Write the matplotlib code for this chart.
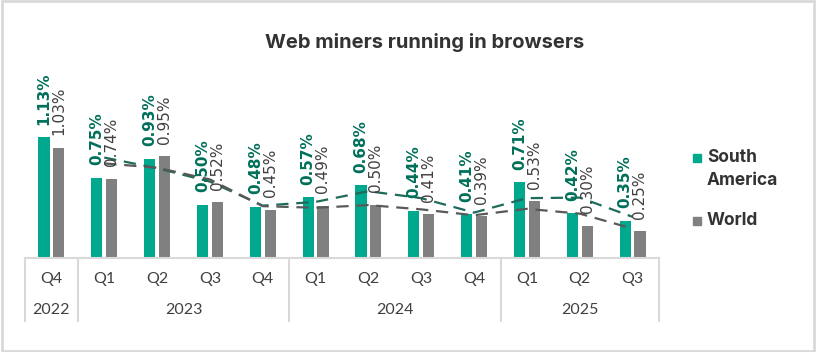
import numpy as np
import matplotlib.pyplot as plt
from matplotlib.patches import Rectangle

quarters = ["Q4", "Q1", "Q2", "Q3", "Q4", "Q1", "Q2", "Q3", "Q4", "Q1", "Q2", "Q3"]
years = ["2022", "2023", "2024", "2025"]
year_spans = [1, 4, 4, 3]   # quarters per year group
south_america = [1.13, 0.75, 0.93, 0.50, 0.48, 0.57, 0.68, 0.44, 0.41, 0.71, 0.42, 0.35]
world = [1.03, 0.74, 0.95, 0.52, 0.45, 0.49, 0.50, 0.41, 0.39, 0.53, 0.30, 0.25]
series_names = ["South\nAmerica", "World"]

TEAL = "#00a88e"
GRAY = "#808080"
TEAL_DARK = "#00705a"
TXT = "#404040"

fig = plt.figure(figsize=(8.16, 3.52), dpi=100)
ax = fig.add_axes([25/816, 1-258/352, 634/816, 171/352])

x = np.arange(len(quarters))
w = 0.21
off = 0.14
ax.bar(x - off, south_america, w, color=TEAL, zorder=2)
ax.bar(x + off, world, w, color=GRAY, zorder=2)

# data labels
for xi, v in zip(x, south_america):
    ax.annotate("{:.2f}%".format(v), (xi - off, v), xytext=(0, 9), textcoords="offset points",
                rotation=90, ha="center", va="bottom", fontsize=11, fontweight="bold",
                color=TEAL_DARK, zorder=4)
for xi, v in zip(x, world):
    ax.annotate("{:.2f}%".format(v), (xi + off, v), xytext=(0, 9), textcoords="offset points",
                rotation=90, ha="center", va="bottom", fontsize=11, color=TXT, zorder=4)

# 2-period moving average trendlines
sa_ma = [(a + b) / 2 for a, b in zip(south_america[:-1], south_america[1:])]
w_ma = [(a + b) / 2 for a, b in zip(world[:-1], world[1:])]
ax.plot(x[1:], sa_ma, color="#1e6b5c", lw=1.6, dashes=(5.5, 3.5), zorder=3)
ax.plot(x[1:], w_ma, color="#595959", lw=1.6, dashes=(5.5, 3.5), zorder=3)

ax.set_xlim(-0.5, len(quarters) - 0.5)
ax.set_ylim(0, 1.6)
ax.set_xticks([])
ax.set_yticks([])
for s in ["top", "right", "left"]:
    ax.spines[s].set_visible(False)
ax.spines["bottom"].set_color("#d9d9d9")
ax.spines["bottom"].set_linewidth(1.5)

# two-level category axis
tr = ax.get_xaxis_transform()
for xi, q in zip(x, quarters):
    ax.text(xi, -0.123, q, transform=tr, ha="center", va="center",
            fontsize=11.5, family="Lato", color=TXT)
start = -0.5
bounds = [start]
for yr, n in zip(years, year_spans):
    ax.text(start + n / 2, -0.304, yr, transform=tr, ha="center", va="center",
            fontsize=11.5, family="Lato", color=TXT)
    start += n
    bounds.append(start)
for b in bounds:
    ax.plot([b, b], [0, -0.368], transform=tr, color="#d9d9d9", lw=1.5, clip_on=False)

fig.text(425/816, 1-42/352, "Web miners running in browsers", ha="center", va="center",
         fontsize=14.5, fontweight="bold", family="Inter", color="#333333")

# legend, marker aligned with first line of each label
leg_items = [(series_names[0], TEAL, 158), (series_names[1], GRAY, 221)]
for name, col, ypix in leg_items:
    fig.patches.append(Rectangle((693/816, 1-(ypix+4)/352), 8/816, 8/352,
                                 transform=fig.transFigure, color=col))
    fig.text(707/816, 1-(ypix-9)/352, name, ha="left", va="top", fontsize=12.5,
             fontweight="bold", family="Inter", color="#333333", linespacing=1.45)

fig.patches.append(Rectangle((0.002, 0.003), 0.996, 0.994, transform=fig.transFigure,
                             fill=False, edgecolor="#d9d9d9", lw=2))

fig.savefig("out.png", dpi=100)
